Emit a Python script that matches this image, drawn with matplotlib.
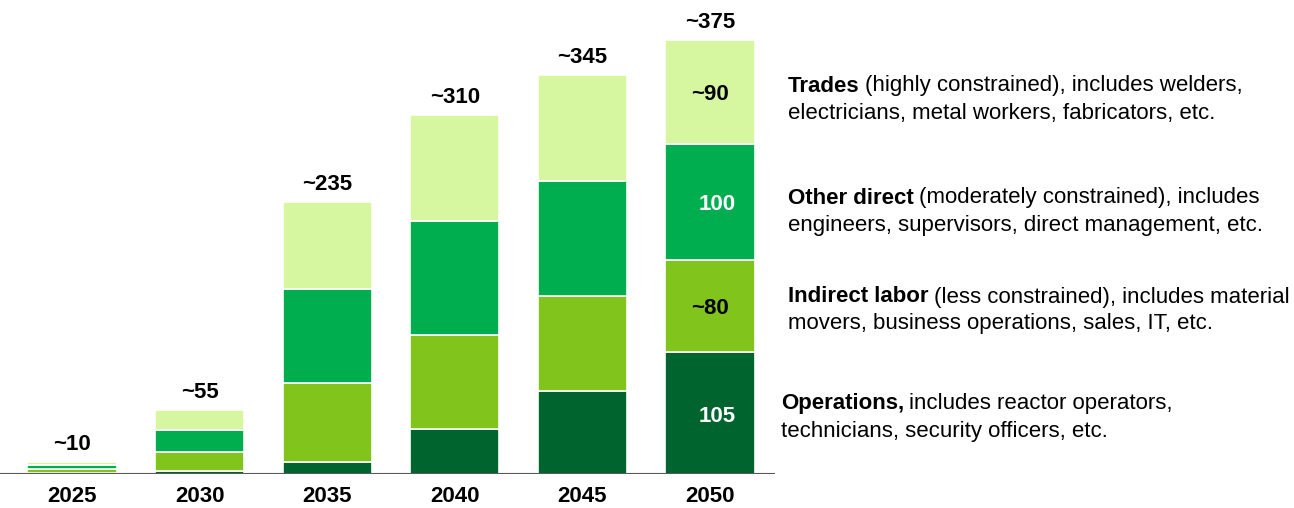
import matplotlib.pyplot as plt
import numpy as np

plt.rcParams["font.family"] = ["Liberation Sans", "DejaVu Sans"]

years = ["2025", "2030", "2035", "2040", "2045", "2050"]
operations = [1, 3, 10, 39, 72, 105]
indirect = [3, 16, 69, 81, 82, 80]
other_direct = [3.5, 19, 81, 99, 99, 100]
trades = [2.5, 17, 75, 91, 92, 90]
total_labels = ["~10", "~55", "~235", "~310", "~345", "~375"]
last_labels = ["105", "~80", "100", "~90"]

series = [operations, indirect, other_direct, trades]
colors = ["#00642f", "#80c41c", "#00ae4f", "#d6f7a0"]
inner_text = ["white", "black", "white", "black"]

descriptions = [
    ("Trades", "(highly constrained), includes welders,",
     "electricians, metal workers, fabricators, etc."),
    ("Other direct", "(moderately constrained), includes",
     "engineers, supervisors, direct management, etc."),
    ("Indirect labor", "(less constrained), includes material",
     "movers, business operations, sales, IT, etc."),
    ("Operations,", "includes reactor operators,",
     "technicians, security officers, etc."),
]
desc_pos = [(788, 86), (788, 198), (788, 297), (781, 404)]

W, H = 1294, 508
fig = plt.figure(figsize=(W / 100, H / 100), dpi=100)
ax = fig.add_axes([0, 34 / H, 775 / W, (474 - 11) / H])

x = np.arange(len(years))
bottom = np.zeros(len(years))
for vals, col in zip(series, colors):
    ax.bar(x, vals, width=0.7, bottom=bottom, color=col,
           edgecolor="white", linewidth=1.2)
    bottom += np.array(vals)

for xi, top, lab in zip(x, bottom, total_labels):
    ax.annotate(lab, (xi, top), xytext=(0, 5), textcoords="offset points",
                ha="center", va="bottom", fontsize=16, fontweight="bold")

# value labels inside the 2050 bar
base = 0
for vals, lab, tc in zip(series, last_labels, inner_text):
    dx = 0.0 if lab.startswith("~") else 0.06
    ax.annotate(lab, (x[-1] + dx, base + vals[-1] / 2), xytext=(0, -2),
                textcoords="offset points", ha="center", va="center",
                fontsize=16, fontweight="bold", color=tc)
    base += vals[-1]

ax.axhline(0, color="#595959", linewidth=1.5)
ax.set_xlim(-0.565, 5.51)
ax.set_ylim(0, 400)
ax.set_xticks(x)
ax.set_xticklabels(years, fontsize=16, fontweight="bold")
ax.tick_params(axis="x", length=0, pad=9)
ax.set_yticks([])
for s in ax.spines.values():
    s.set_visible(False)

renderer = fig.canvas.get_renderer()
for (bold, rest, line2), (px, py) in zip(descriptions, desc_pos):
    fx, fy = px / W, 1 - py / H
    t = fig.text(fx, fy, bold, fontsize=16, fontweight="bold",
                 ha="left", va="center")
    bb = t.get_window_extent(renderer)
    fig.text((bb.x1 + 5) / W, fy, rest, fontsize=16, ha="left", va="center")
    fig.text(fx, 1 - (py + 27) / H, line2, fontsize=16, ha="left", va="center")

fig.savefig("out.png", dpi=100)
